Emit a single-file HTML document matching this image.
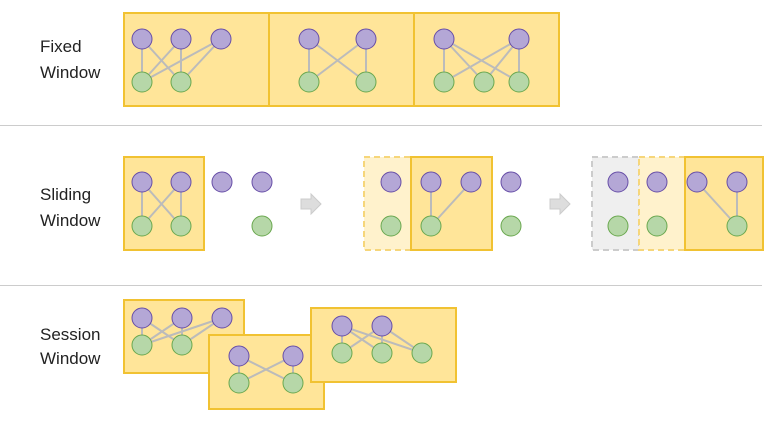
<!DOCTYPE html><html><head><style>body{margin:0;background:#fff}svg{display:block}text{font-family:"Liberation Sans",sans-serif;font-size:17px;fill:#222}</style></head><body>
<svg width="782" height="425">
<defs>
<g id="arr"><path d="M-10,-5 h10 v-5 l10,10 l-10,10 v-5 h-10z" fill="#ddd" stroke="#ccc"/></g>
</defs>
<line x1="0" y1="125.5" x2="762" y2="125.5" stroke="#ccc"/>
<line x1="0" y1="285.5" x2="762" y2="285.5" stroke="#ccc"/>
<text x="40" y="52">Fixed</text><text x="40" y="78">Window</text>
<text x="40" y="200">Sliding</text><text x="40" y="226">Window</text>
<text x="40" y="340">Session</text><text x="40" y="364">Window</text>
<g id="content"></g>
<use href="#arr" x="311" y="204"/>
<use href="#arr" x="560" y="204"/>
</svg>
<script>
const NS="http://www.w3.org/2000/svg",root=document.getElementById('content');
function el(t,a){const e=document.createElementNS(NS,t);for(const k in a)e.setAttribute(k,a[k]);root.appendChild(e);return e;}
const Y='#ffe599',YB='#f1c232';
function box(x,y,w,h,fill,stroke,dash,name){const e=el('rect',{x,y,width:w,height:h,fill,stroke,'stroke-width':2,'stroke-dasharray':dash||'none'});

}
function group(py,gy,P,G,E,name){
E.forEach(([a,b])=>{const l=el('line',{x1:P[a],y1:py,x2:G[b],y2:gy,stroke:'#bbb','stroke-width':2});

});
P.forEach(x=>{const c=el('circle',{cx:x,cy:py,r:10,fill:'#b4a7d6',stroke:'#674ea7'});

});
G.forEach(x=>{const c=el('circle',{cx:x,cy:gy,r:10,fill:'#b6d7a8',stroke:'#6aa84f'});

});}
// fixed
box(124,13,145,93,Y,YB,0,'fixed-window-1');box(269,13,145,93,Y,YB,0,'fixed-window-2');box(414,13,145,93,Y,YB,0,'fixed-window-3');
group(39,82,[142,181,221],[142,181],[[0,0],[0,1],[1,0],[1,1],[2,0],[2,1]],'fixed');
group(39,82,[309,366],[309,366],[[0,0],[0,1],[1,0],[1,1]],'fixed');
group(39,82,[444,519],[444,484,519],[[0,0],[0,1],[0,2],[1,0],[1,1],[1,2]],'fixed');
// sliding
box(124,157,80,93,Y,YB,0,'sliding-window-1');
group(182,226,[142,181,222,262],[142,181,262],[[0,0],[0,1],[1,0],[1,1]],'sliding');
box(364,157,47,93,'#fff2cc','#f6d67a','6,4','previous-window-ghost');box(411,157,81,93,Y,YB,0,'sliding-window-2');
group(182,226,[391,431,471,511],[391,431,511],[[1,1],[2,1]],'sliding');
box(592,157,47,93,'#efefef','#ccc','6,4','old-window-ghost');box(639,157,46,93,'#fff2cc','#f6d67a','6,4','previous-window-ghost-2');box(685,157,78,93,Y,YB,0,'sliding-window-3');
group(182,226,[618,657,697,737],[618,657,737],[[2,2],[3,2]],'sliding');
// session
box(124,300,120,73,Y,YB,0,'session-window-1');
group(318,345,[142,182,222],[142,182],[[0,0],[0,1],[1,0],[1,1],[2,0],[2,1]],'session');
box(209,335,115,74,Y,YB,0,'session-window-2');
group(356,383,[239,293],[239,293],[[0,0],[0,1],[1,0],[1,1]],'session');
box(311,308,145,74,Y,YB,0,'session-window-3');
group(326,353,[342,382],[342,382,422],[[0,0],[0,1],[0,2],[1,0],[1,1],[1,2]],'session');
</script>
</body></html>
